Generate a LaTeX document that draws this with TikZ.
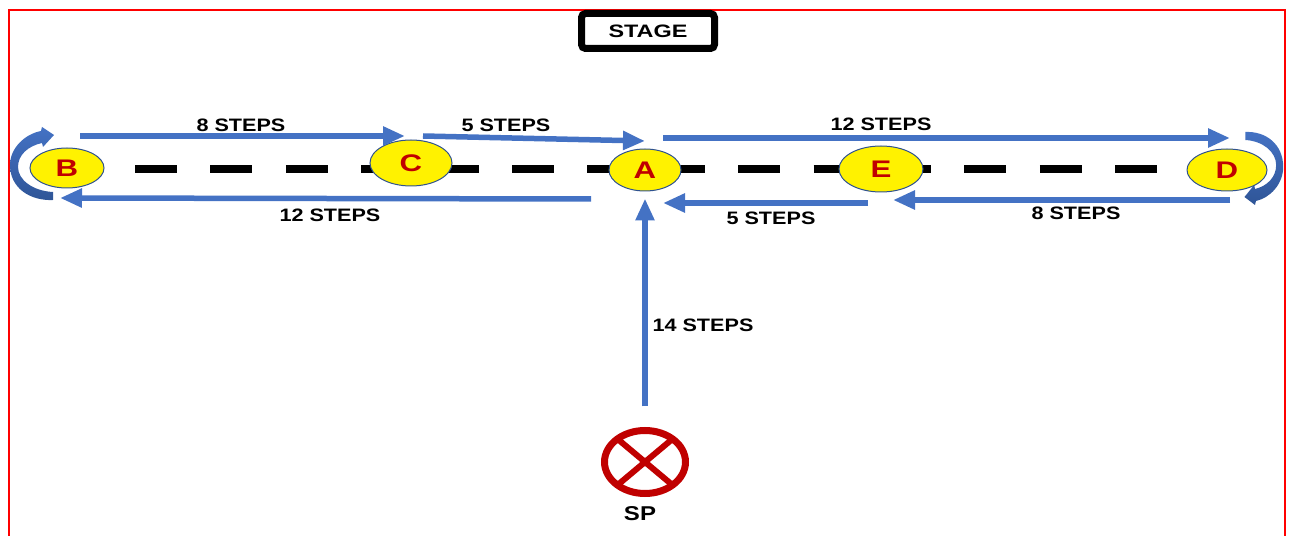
\documentclass[tikz,border=0pt]{standalone}
\usepackage{fontspec}
\usepackage{xcolor}
\usetikzlibrary{arrows.meta,shapes.geometric}
\newfontfamily\lblfont[FakeStretch=1.2]{Liberation Sans}
\newfontfamily\letfont[FakeStretch=1.3]{Liberation Sans}
\definecolor{stepblue}{HTML}{4472C4}
\definecolor{turnblue}{HTML}{2F5597}
\definecolor{spotred}{HTML}{C00000}
\definecolor{rimblue}{HTML}{2F528F}
\tikzset{
  spot/.style={ellipse,draw=rimblue,line width=1bp,fill=yellow,inner sep=0pt,
    text=spotred,font=\letfont\bfseries\fontsize{24bp}{26bp}\selectfont},
  walk/.style={stepblue,line width=5.5bp,-{Triangle[length=22bp,width=18bp]}},
  steps/.style={inner sep=0pt,font=\lblfont\bfseries\fontsize{18bp}{20bp}\selectfont},
  turnarrow/.pic={
    \shade[top color=stepblue,bottom color=turnblue]
      (53,200) .. controls (30,201) and (10,188) .. (10,165)
      .. controls (10,148) and (25,134) .. (41,131) -- (42,127) -- (54,135)
      -- (43,147) -- (42,143) .. controls (28,146) and (18,155) .. (18,167)
      .. controls (18,180) and (33,191) .. (53,192) -- cycle;
  },
}
\begin{document}
\begin{tikzpicture}[x=1bp,y=-1bp]
\useasboundingbox (0,0) rectangle (1291,536);
\draw[red,line width=1.5bp] (9,536) -- (9,10) -- (1285,10) -- (1285,536);
\node[draw,line width=7bp,rounded corners=4bp,minimum width=133bp,minimum height=35bp,
  inner sep=0pt,font=\letfont\bfseries\fontsize{18bp}{20bp}\selectfont] (stage) at (648,31) {STAGE};
\draw[line width=8bp,dash pattern=on 42bp off 33.4bp] (135,169) -- (1160,169);
\pic at (0,0) {turnarrow};
\pic[rotate=180,xscale=0.88] at (1292,332) {turnarrow};
\node[spot,minimum width=74bp,minimum height=40bp] (B) at (67,168) {B};
\node[spot,minimum width=82bp,minimum height=46bp] (C) at (411,163) {C};
\node[spot,minimum width=72bp,minimum height=42bp] (A) at (645,170) {A};
\node[spot,minimum width=84bp,minimum height=46bp] (E) at (881,169) {E};
\node[spot,minimum width=80bp,minimum height=42bp] (D) at (1227,170) {D};
\coordinate (bc0) at (80,136);
\coordinate (bc1) at (405,136);
\coordinate (ca0) at (423,136);
\coordinate (ca1) at (645,141);
\coordinate (ad0) at (663,138);
\coordinate (ad1) at (1230,138);
\coordinate (ab0) at (591,199);
\coordinate (ab1) at (60,198);
\coordinate (ea0) at (868,203);
\coordinate (ea1) at (663,203);
\coordinate (de0) at (1230,200);
\coordinate (de1) at (893,200);
\draw[walk] (bc0) -- (bc1);
\draw[walk] (ca0) -- (ca1);
\draw[walk] (ad0) -- (ad1);
\draw[walk] (ab0) -- (ab1);
\draw[walk] (ea0) -- (ea1);
\draw[walk] (de0) -- (de1);
\node[ellipse,draw=spotred,line width=7bp,minimum width=81bp,minimum height=63bp,
  inner sep=0pt,outer sep=0pt] (sp) at (645,462) {};
\draw[spotred,line width=6bp] (sp.140) -- (sp.-40) (sp.40) -- (sp.-140);
\draw[walk] ([yshift=24bp]sp.north) -- ([yshift=-7bp]A.south);
\node[steps] (bcl) at (241,125) {8 STEPS};
\node[steps] (cal) at (506,125) {5 STEPS};
\node[steps] (adl) at (881,124) {12 STEPS};
\node[steps] (abl) at (330,215) {12 STEPS};
\node[steps] (eal) at (771,218) {5 STEPS};
\node[steps] (del) at (1076,213) {8 STEPS};
\node[steps] (sal) at (703,325) {14 STEPS};
\node[steps,font=\lblfont\bfseries\fontsize{20bp}{22bp}\selectfont] (spl) at (640,514) {SP};
\end{tikzpicture}
\end{document}
